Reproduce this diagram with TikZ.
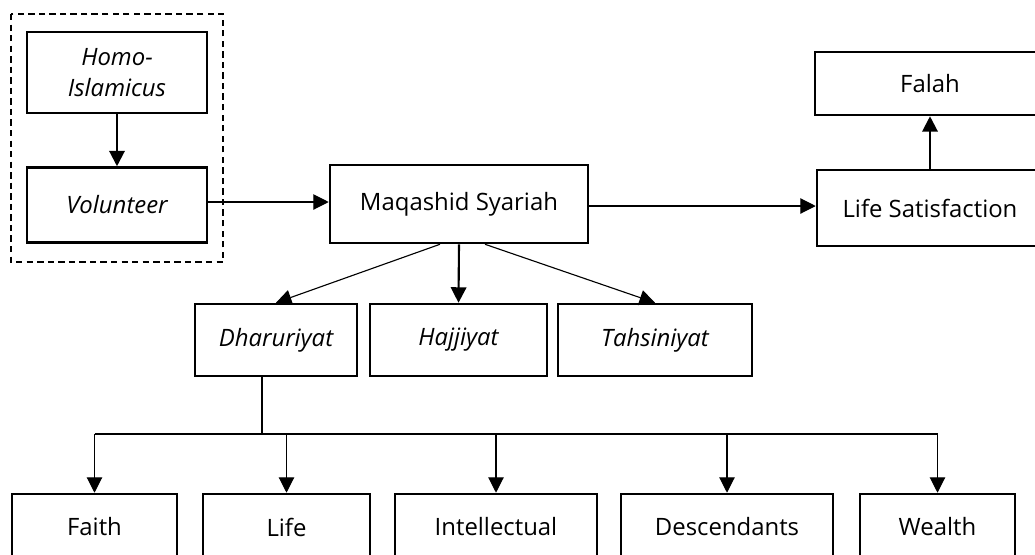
\documentclass[tikz,border=0pt]{standalone}
\usepackage{fontspec}
\setmainfont{Open Sans}
\usetikzlibrary{arrows.meta,positioning,calc}

\tikzset{
    box/.style={draw, rectangle, line width=1.8pt, inner sep=0pt, align=center, font=\fontsize{17}{22}\selectfont},
    thinarr/.style={-{Triangle[width=11pt,length=11pt]}, line width=0.8pt},
    thickarr/.style={-{Triangle[width=11pt,length=11pt]}, line width=1.5pt}
}

\begin{document}
\begin{tikzpicture}[x=0.025cm, y=-0.025cm]
    \useasboundingbox (0,0) rectangle (1035,554);
    \clip (0,0) rectangle (1035,554);

    % left group
    \draw[dashed, line width=1.2pt, dash pattern=on 4.5pt off 3pt] (11,14) rectangle (223,262);
    \node[box, minimum width=180*0.025cm, minimum height=81*0.025cm] (homo) at (117,72.5) {\itshape Homo-\\\itshape Islamicus};
    \node[box, minimum width=180*0.025cm, minimum height=75*0.025cm] (volunteer) at (117,205) {\itshape Volunteer};

    % middle and right
    \node[box, minimum width=258*0.025cm, minimum height=78*0.025cm] (maqashid) at (459,204) {Maqashid Syariah};
    \node[box, minimum width=226*0.025cm, minimum height=76*0.025cm] (satisfaction) at (930,208) {Life Satisfaction};
    \node[box, minimum width=230*0.025cm, minimum height=63*0.025cm] (falah) at (930,83.5) {Falah};

    % three levels
    \node[box, minimum width=162*0.025cm, minimum height=72*0.025cm] (dharuriyat) at (276,340) {\itshape Dharuriyat};
    \node[box, minimum width=177*0.025cm, minimum height=72*0.025cm] (hajjiyat) at (458.5,340) {\itshape Hajjiyat};
    \node[box, minimum width=194*0.025cm, minimum height=72*0.025cm] (tahsiniyat) at (655,340) {\itshape Tahsiniyat};

    % five necessities
    \node[box, minimum width=165*0.025cm, minimum height=66*0.025cm] (faith) at (94.5,527) {Faith};
    \node[box, minimum width=167*0.025cm, minimum height=66*0.025cm] (life) at (286.5,527) {Life};
    \node[box, minimum width=202*0.025cm, minimum height=66*0.025cm] (intellectual) at (496,527) {Intellectual};
    \node[box, minimum width=212*0.025cm, minimum height=66*0.025cm] (descendants) at (727,527) {Descendants};
    \node[box, minimum width=155*0.025cm, minimum height=66*0.025cm] (wealth) at (937.5,527) {Wealth};

    \draw[thickarr] (homo) -- (volunteer);
    \draw[thinarr] (volunteer.east |- 0,202) -- (maqashid.west |- 0,202);
    \draw[thinarr] (maqashid.east |- 0,206) -- (satisfaction.west |- 0,206);
    \draw[thickarr] (satisfaction) -- (falah);

    \draw[thinarr] ($(maqashid.south)+(-19,0)$) -- (dharuriyat.north);
    \draw[thickarr] (maqashid.south) -- (hajjiyat.north);
    \draw[thinarr] ($(maqashid.south)+(26,0)$) -- (tahsiniyat.north);

    \coordinate (bus) at (262,434);
    \draw[line width=1.1pt] (dharuriyat.south -| bus) -- (bus);
    \draw[line width=0.8pt] (faith.north |- bus) -- (wealth.north |- bus);
    \foreach \n in {faith,life,intellectual,descendants,wealth}
        \draw[thinarr] (\n.north |- bus) -- (\n.north);
\end{tikzpicture}
\end{document}
